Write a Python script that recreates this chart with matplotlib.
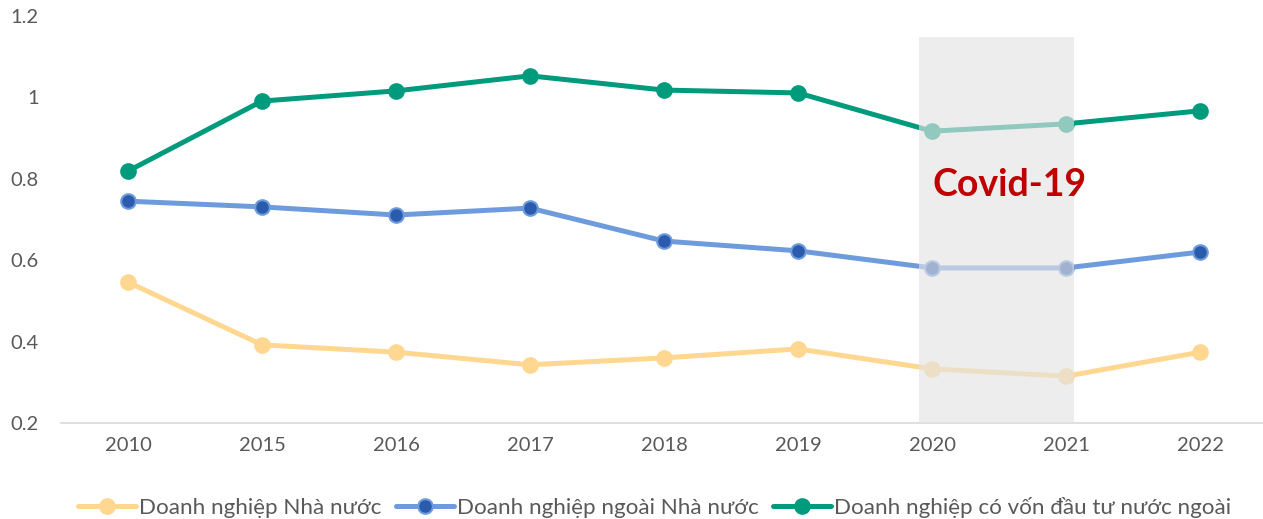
import matplotlib
matplotlib.use("Agg")
import matplotlib.pyplot as plt
from matplotlib.patches import Rectangle

years = ["2010", "2015", "2016", "2017", "2018", "2019", "2020", "2021", "2022"]
dn_nha_nuoc = [0.546, 0.392, 0.374, 0.343, 0.360, 0.382, 0.333, 0.315, 0.374]
dn_ngoai_nha_nuoc = [0.745, 0.731, 0.711, 0.728, 0.647, 0.623, 0.581, 0.581, 0.620]
dn_fdi = [0.819, 0.991, 1.016, 1.053, 1.018, 1.011, 0.917, 0.935, 0.967]
labels = ["Doanh nghiệp Nhà nước", "Doanh nghiệp ngoài Nhà nước",
          "Doanh nghiệp có vốn đầu tư nước ngoài"]
yticks = [0.2, 0.4, 0.6, 0.8, 1.0, 1.2]
ytick_labels = ["0.2", "0.4", "0.6", "0.8", "1", "1.2"]

plt.rcParams['font.family'] = ['Lato', 'DejaVu Sans']

fig = plt.figure(figsize=(12.63, 5.19), dpi=100)
ax = fig.add_axes([61/1263, 1 - 423/519, (1267-61)/1263, (423-16)/519])

x = list(range(len(years)))
series = [
    (dn_nha_nuoc, "#FFD791", "#FFD791", "#FFD791"),
    (dn_ngoai_nha_nuoc, "#6E9BDC", "#2B5BAD", "#6E9BDC"),
    (dn_fdi, "#009B7D", "#009B7D", "#009B7D"),
]
for (vals, lc, mfc, mec), lab in zip(series, labels):
    ax.plot(x, vals, color=lc, lw=3.6, marker="o", markersize=10.5,
            markerfacecolor=mfc, markeredgecolor=mec, markeredgewidth=1.5,
            label=lab, zorder=3, solid_capstyle="round")

# Covid shaded band (overlay)
ax.add_patch(Rectangle((5.90, 0.2), 1.16, 1.148 - 0.2, facecolor=(228/255, 228/255, 228/255),
                       alpha=0.64, edgecolor="none", zorder=4))
ax.text(6.58, 0.785, "Covid-19", color="#C00000", fontsize=27, fontweight="bold",
        ha="center", va="center", zorder=5)

ax.set_xlim(-0.5, 8.5)
ax.set_ylim(0.2, 1.2)
ax.set_xticks(x)
ax.set_xticklabels(years)
ax.set_yticks(yticks)
ax.set_yticklabels(ytick_labels)
ax.tick_params(axis="both", length=0, labelsize=14.5, labelcolor="#595959")
ax.tick_params(axis="x", pad=10)
ax.tick_params(axis="y", pad=16)
for s in ["top", "right", "left"]:
    ax.spines[s].set_visible(False)
ax.spines["bottom"].set_color("#D9D9D9")
ax.spines["bottom"].set_linewidth(1.2)

leg = fig.legend(loc="center left", bbox_to_anchor=(78/1263, 1 - 507/519), ncol=3,
                 frameon=False, fontsize=16.1, handlelength=2.6, handletextpad=0.12,
                 columnspacing=0.65, borderaxespad=0, borderpad=0)
for t in leg.get_texts():
    t.set_color("#595959")

fig.savefig("out.png", dpi=100)
